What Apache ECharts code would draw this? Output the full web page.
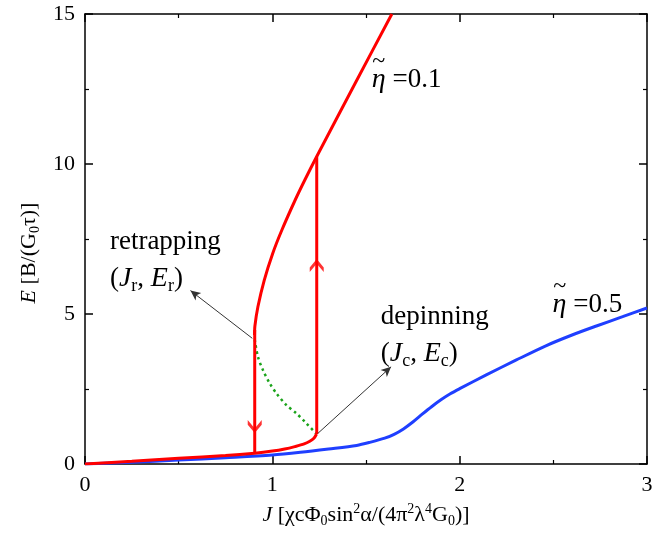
<!DOCTYPE html>
<html>
<head>
<meta charset="utf-8">
<script src="https://cdn.jsdelivr.net/npm/echarts@6/dist/echarts.min.js"></script>
<style>
html, body { margin: 0; padding: 0; background: #fff; }
#chart { width: 672px; height: 538px; }
</style>
</head>
<body>
<div id="chart"></div>
<script>
// eta = 0.1, lower (pinned) branch
const lowJ = [0, 0.25, 0.5, 0.75, 0.906, 1.0, 1.066, 1.12, 1.17, 1.2, 1.222, 1.236];
const lowE = [0, 0.09, 0.19, 0.28, 0.36, 0.43, 0.5, 0.58, 0.67, 0.76, 0.86, 1.0];
// eta = 0.1, upper (sliding) branch
const upJ = [0.905, 0.907, 0.923, 0.957, 1.002, 1.051, 1.122, 1.176, 1.237, 1.443, 1.638];
const upE = [4.3, 4.6, 5.24, 6.13, 7.02, 7.8, 8.8, 9.5, 10.25, 12.7, 15];
// eta = 0.1, unstable branch (dotted)
const midJ = [0.906, 0.923, 0.95, 0.986, 1.021, 1.074, 1.128, 1.181, 1.236];
const midE = [4.15, 3.58, 3.13, 2.69, 2.36, 1.97, 1.69, 1.36, 1.0];
// jumps
const depinJ = 1.237, depinE = [1.0, 10.25];
const retrapJ = 0.906, retrapE = [4.47, 0.36];
// eta = 0.5
const blueJ = [0, 0.25, 0.5, 0.75, 1.0, 1.15, 1.3, 1.45, 1.52, 1.6, 1.65, 1.7, 1.75, 1.8, 1.85, 1.9, 1.95, 2.0, 2.142, 2.3, 2.46, 2.6, 2.73, 2.87, 3.0];
const blueE = [0, 0.06, 0.13, 0.21, 0.3, 0.39, 0.5, 0.62, 0.72, 0.86, 0.99, 1.17, 1.4, 1.66, 1.91, 2.14, 2.34, 2.51, 2.97, 3.46, 3.94, 4.3, 4.6, 4.91, 5.2];
// arrow heads on the jumps (tip positions)
const downTip = [0.906, 1.03];
const upTip = [1.237, 6.83];
// annotation pointers [from, to]
const pointers = [
    [[0.893, 4.19], [0.563, 5.78]],
    [[1.243, 1.02], [1.634, 3.24]]
];

const zip = (a, b) => a.map((v, i) => [v, b[i]]);
const serif = 'Liberation Serif';

let chart = echarts.init(document.getElementById('chart'));

const titleRich = {
    i: { fontFamily: serif, fontStyle: 'italic', fontSize: 22, lineHeight: 26, color: '#000' },
    n: { fontFamily: serif, fontSize: 22, lineHeight: 26, color: '#000' },
    sub: { fontFamily: serif, fontSize: 14, lineHeight: 14, verticalAlign: 'bottom', color: '#000' },
    sup: { fontFamily: serif, fontSize: 14, lineHeight: 14, verticalAlign: 'top', color: '#000' }
};
const noteRich = {
    i: { fontFamily: serif, fontStyle: 'italic', fontSize: 28, lineHeight: 32, color: '#000' },
    n: { fontFamily: serif, fontSize: 27, lineHeight: 32, color: '#000' },
    t: { fontFamily: serif, fontSize: 24, lineHeight: 24, color: '#000' },
    sub: { fontFamily: serif, fontSize: 18, lineHeight: 16, verticalAlign: 'bottom', color: '#000' }
};

function axisBase(show) {
    return {
        min: 0,
        axisLine: { show: true, onZero: false, lineStyle: { color: '#000', width: 1.5 } },
        axisTick: { show: true, inside: true, length: 8, lineStyle: { color: '#000', width: 1.5 } },
        minorTick: { show: true, splitNumber: 2, length: 4, lineStyle: { color: '#000', width: 1.2 } },
        splitLine: { show: false },
        axisLabel: {
            show: show, margin: 10, fontFamily: serif, fontSize: 22, color: '#000',
            showMinLabel: true, showMaxLabel: true
        }
    };
}

let option = {
    animation: false,
    grid: { left: 85, right: 25, top: 14, bottom: 74 },
    xAxis: [
        Object.assign(axisBase(true), {
            type: 'value', position: 'bottom', max: 3, interval: 1,
            name: '{i|J}{n| [χcΦ}{sub|0}{n|sin}{sup|2}{n|α/(4π}{sup|2}{n|λ}{sup|4}{n|G}{sub|0}{n|)]}',
            nameLocation: 'middle', nameGap: 38,
            nameTextStyle: { rich: titleRich }
        }),
        Object.assign(axisBase(false), { type: 'value', position: 'top', max: 3, interval: 1 })
    ],
    yAxis: [
        Object.assign(axisBase(true), {
            type: 'value', position: 'left', max: 15, interval: 5,
            name: '{i|E}{n| [B/(G}{sub|0}{n|τ)]}',
            nameLocation: 'middle', nameGap: 38, nameRotate: 90,
            nameTextStyle: { rich: titleRich, padding: [0, 28, 0, 0] }
        }),
        Object.assign(axisBase(false), { type: 'value', position: 'right', max: 15, interval: 5 })
    ],
    series: [
        {
            type: 'line', data: zip(blueJ, blueE), smooth: 0.3, symbol: 'none',
            lineStyle: { color: '#1f3fff', width: 3 }
        },
        {
            type: 'line', data: zip(midJ, midE), smooth: 0.3, symbol: 'none',
            lineStyle: { color: '#1aa31a', width: 2.5, type: [2.5, 3.5] }
        },
        {
            type: 'line', data: zip(lowJ, lowE), smooth: 0.3, symbol: 'none',
            lineStyle: { color: '#ff0000', width: 3 }
        },
        {
            type: 'line', data: zip(upJ, upE), smooth: 0.3, symbol: 'none',
            lineStyle: { color: '#ff0000', width: 3 }
        },
        {
            type: 'line', data: depinE.map(e => [depinJ, e]), symbol: 'none',
            lineStyle: { color: '#ff0000', width: 3 }
        },
        {
            type: 'line', data: retrapE.map(e => [retrapJ, e]), symbol: 'none',
            lineStyle: { color: '#ff0000', width: 3 }
        },
        {
            type: 'scatter', data: [downTip], z: 5,
            symbol: 'path://M0,0 L7,9 L14,0 L14,5 L7,14 L0,5 Z',
            symbolSize: [14, 13], symbolOffset: [0, -6.5],
            itemStyle: { color: '#ff0000' }
        },
        {
            type: 'scatter', data: [upTip], z: 5,
            symbol: 'path://M0,14 L7,5 L14,14 L14,9 L7,0 L0,9 Z',
            symbolSize: [14, 13], symbolOffset: [0, 6.5],
            itemStyle: { color: '#ff0000' },
            markLine: {
                silent: true, symbol: ['none', 'arrow'], symbolSize: [7, 10],
                label: { show: false },
                lineStyle: { color: '#333', width: 1, type: 'solid' },
                data: pointers.map(p => [{ coord: p[0] }, { coord: p[1] }])
            }
        }
    ]
};
chart.setOption(option);

// text notes, anchored at data positions (left edge, vertical middle)
const notes = [
    { at: [0.133, 7.4], text: '{n|retrapping}' },
    { at: [0.133, 6.17], text: '{n|(}{i|J}{sub|r}{n|, }{i|E}{sub|r}{n|)}' },
    { at: [1.579, 4.9], text: '{n|depinning}' },
    { at: [1.579, 3.67], text: '{n|(}{i|J}{sub|c}{n|, }{i|E}{sub|c}{n|)}' },
    { at: [1.531, 12.8], text: '{i|η}{n| =0.1}' },
    { at: [1.534, 13.4], text: '{t|~}' },
    { at: [2.496, 5.3], text: '{i|η}{n| =0.5}' },
    { at: [2.499, 5.9], text: '{t|~}' }
];
chart.setOption({
    graphic: notes.map(n => {
        const p = chart.convertToPixel({ gridIndex: 0 }, n.at);
        return {
            type: 'text', x: p[0], y: p[1], silent: true,
            style: { text: n.text, rich: noteRich, align: 'left', verticalAlign: 'middle' }
        };
    })
});
</script>
</body>
</html>
